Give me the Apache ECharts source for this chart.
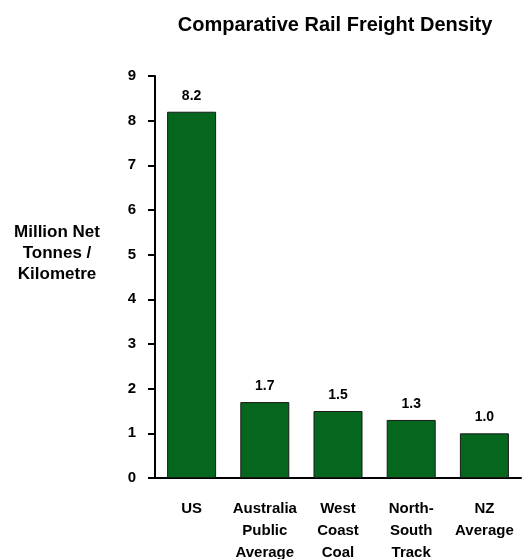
<!DOCTYPE html>
<html><head><meta charset="utf-8">
<script src="https://cdn.jsdelivr.net/npm/echarts@6/dist/echarts.min.js"></script>
<style>html,body{margin:0;padding:0;background:#fff}#c{width:527px;height:559px}</style>
</head><body><div id="c"></div>
<script>
var categories = ['US', 'Australia\nPublic\nAverage', 'West\nCoast\nCoal', 'North-\nSouth\nTrack', 'NZ\nAverage'];
var values = [8.2, 1.7, 1.5, 1.3, 1.0];
var yTicks = [0, 1, 2, 3, 4, 5, 6, 7, 8, 9];
var font = 'Liberation Sans, Arial, sans-serif';
var chart = echarts.init(document.getElementById('c'));
chart.setOption({
  animation: false,
  title: {
    text: 'Comparative Rail Freight Density',
    left: 330, top: 10, textAlign: 'center',
    textStyle: {fontFamily: font, fontWeight: 'bold', fontSize: 20, color: '#000'}
  },
  graphic: [{
    type: 'text', x: 57, y: 253, z: 10,
    style: {
      text: 'Million Net\nTonnes /\nKilometre',
      textAlign: 'center', textVerticalAlign: 'middle',
      fontFamily: font, fontWeight: 'bold', fontSize: 17, lineHeight: 21, fill: '#000'
    }
  }],
  grid: {left: 155, top: 76, width: 366, height: 402, containLabel: false, outerBoundsMode: 'none'},
  xAxis: {
    type: 'category', data: categories,
    axisLine: {lineStyle: {color: '#000', width: 2}},
    axisTick: {show: false},
    axisLabel: {fontFamily: font, fontWeight: 'bold', fontSize: 15, color: '#000', lineHeight: 22, margin: 20, interval: 0}
  },
  yAxis: {
    type: 'value', min: yTicks[0], max: yTicks[yTicks.length - 1], interval: 1,
    axisLine: {show: true, lineStyle: {color: '#000', width: 2}},
    axisTick: {show: true, inside: false, length: 7, lineStyle: {color: '#000', width: 2}},
    splitLine: {show: false},
    axisLabel: {fontFamily: font, fontWeight: 'bold', fontSize: 15, color: '#000', margin: 19, padding: [3, 0, 0, 0]}
  },
  series: [{
    type: 'bar', data: values, barWidth: 49,
    itemStyle: {color: '#05661e', borderColor: '#1a1a1a', borderWidth: 1},
    label: {show: true, position: 'top', distance: 9, formatter: function(p){return p.value.toFixed(1);},
      fontFamily: font, fontWeight: 'bold', fontSize: 14, color: '#000'}
  }]
});
</script></body></html>
